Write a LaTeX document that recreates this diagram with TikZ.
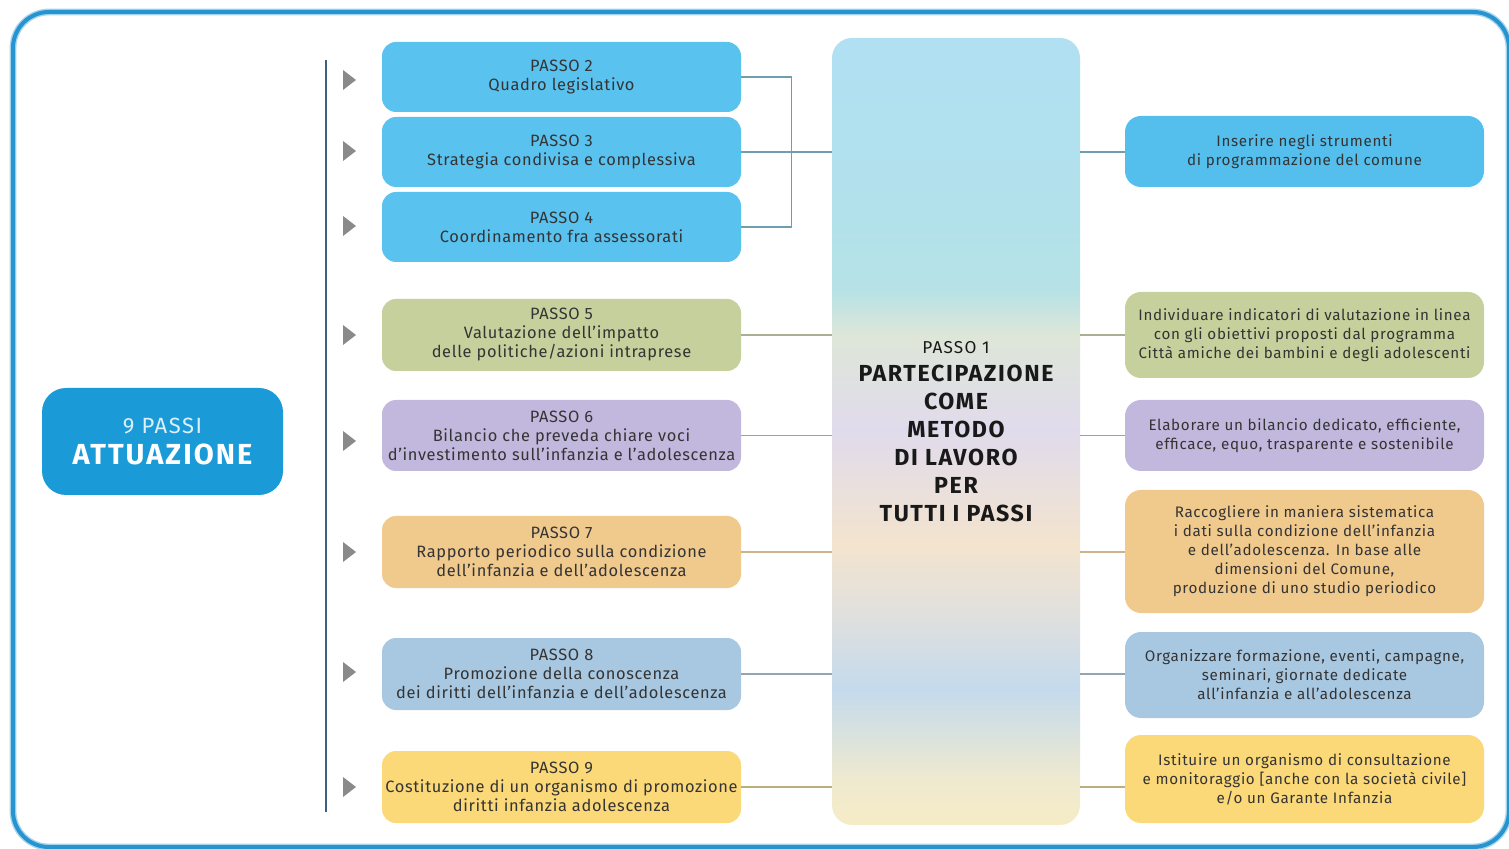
\documentclass[tikz,border=0pt]{standalone}
\usepackage{fontspec}
\setmainfont{Fira Sans}
\newfontfamily\passofont{Fira Sans}[LetterSpace=4]
\newfontfamily\azionefont{Fira Sans}[LetterSpace=4.5]
\newfontfamily\titolofont{Fira Sans}[LetterSpace=7]

\definecolor{frameblue}{RGB}{38,148,208}
\definecolor{mainblue}{RGB}{26,155,216}
\definecolor{stepcyan}{RGB}{90,194,239}
\definecolor{stepolive}{RGB}{197,208,156}
\definecolor{steplilac}{RGB}{194,184,221}
\definecolor{steppeach}{RGB}{240,201,141}
\definecolor{stepsteel}{RGB}{168,200,226}
\definecolor{stepyellow}{RGB}{251,217,121}
\definecolor{txtgray}{RGB}{52,52,52}
\definecolor{trigray}{RGB}{138,138,138}
\definecolor{axisblue}{RGB}{62,95,125}

\definecolor{shadeA}{RGB}{176,224,242}
\definecolor{shadeB}{RGB}{178,225,236}
\definecolor{shadeC}{RGB}{182,226,230}
\definecolor{shadeD}{RGB}{222,230,216}
\definecolor{shadeE}{RGB}{224,219,236}
\definecolor{shadeF}{RGB}{243,228,206}
\definecolor{shadeG}{RGB}{224,224,222}
\definecolor{shadeH}{RGB}{196,218,236}
\definecolor{shadeI}{RGB}{238,233,208}
\definecolor{shadeJ}{RGB}{246,236,198}

\pgfdeclareverticalshading{passouno}{100bp}{color(0bp)=(shadeJ); color(25bp)=(shadeJ);
  color(28bp)=(shadeI); color(33.6bp)=(shadeH); color(38.3bp)=(shadeG); color(42.8bp)=(shadeF);
  color(50.1bp)=(shadeE); color(56.1bp)=(shadeD); color(59bp)=(shadeC); color(64.7bp)=(shadeB);
  color(75bp)=(shadeA); color(100bp)=(shadeA)}

\begin{document}
\begin{tikzpicture}[x=0.5pt,y=-0.5pt,
    passo/.style={rounded corners=7pt, minimum width=179.5pt, minimum height=35pt,
      inner sep=0pt, align=center, text=txtgray, font=\passofont\fontsize{8.2}{9.5}\selectfont},
    azione/.style={rounded corners=8pt, minimum width=179.5pt, minimum height=35.5pt,
      inner sep=0pt, align=center, text=txtgray, font=\azionefont\fontsize{7.6}{9.5}\selectfont},
    conn/.style={line width=0.6pt}]
	\useasboundingbox (0,0) rectangle (1509,849);
	\draw[frameblue!40, line width=3.4pt, rounded corners=18pt] (13,12) rectangle (1509,847);
	\draw[frameblue, line width=2pt, rounded corners=18pt] (13,12) rectangle (1509,847);

	\node[fill=mainblue, rounded corners=12pt, minimum width=120.5pt, minimum height=53.5pt,
	  align=center, text=white, font=\titolofont\fontsize{14.5}{16.5}\selectfont\bfseries] (passi) at (162.5,441.5)
	  {{\fontsize{11}{12}\selectfont\mdseries\color{white!85!mainblue}9 PASSI}\\[-1pt]ATTUAZIONE};

	\draw[axisblue, line width=0.8pt] (326,60) -- (326,812);
	\foreach \y in {80,151,226,335,441,552,672,787}
		\fill[trigray] (343,\y-10) -- (356,\y) -- (343,\y+10) -- cycle;

	\node[passo, fill=stepcyan] (p2) at (561.5,77) {PASSO 2\\Quadro legislativo};
	\node[passo, fill=stepcyan] (p3) at (561.5,152) {PASSO 3\\Strategia condivisa e complessiva};
	\node[passo, fill=stepcyan] (p4) at (561.5,227) {PASSO 4\\Coordinamento fra assessorati};
	\node[passo, fill=stepolive, minimum height=36pt] (p5) at (561.5,335)
	  {PASSO 5\\Valutazione dell’impatto\\delle politiche/azioni intraprese};
	\node[passo, fill=steplilac, minimum height=35.5pt] (p6) at (561.5,435.5)
	  {PASSO 6\\Bilancio che preveda chiare voci\\d’investimento sull’infanzia e l’adolescenza};
	\node[passo, fill=steppeach, minimum height=36pt] (p7) at (561.5,552)
	  {PASSO 7\\Rapporto periodico sulla condizione\\dell’infanzia e dell’adolescenza};
	\node[passo, fill=stepsteel, minimum height=36pt] (p8) at (561.5,674)
	  {PASSO 8\\Promozione della conoscenza\\dei diritti dell’infanzia e dell’adolescenza};
	\node[passo, fill=stepyellow, minimum height=36pt] (p9) at (561.5,787)
	  {PASSO 9\\Costituzione di un organismo di promozione\\diritti infanzia adolescenza};

	\node[shading=passouno, rounded corners=10pt, minimum width=124pt, minimum height=393.5pt,
	  align=center, text=black!90, font=\titolofont\fontsize{11.6}{14}\selectfont\bfseries] (p1) at (956,431.5)
	  {{\fontsize{8.6}{10}\selectfont\mdseries PASSO 1}\\PARTECIPAZIONE\\COME\\METODO\\DI LAVORO\\PER\\TUTTI I PASSI};

	\node[azione, fill=stepcyan!90!mainblue] (a1) at (1304.5,151.5)
	  {Inserire negli strumenti\\di programmazione del comune};
	\node[azione, fill=stepolive, minimum height=43pt] (a2) at (1304.5,335)
	  {Individuare indicatori di valutazione in linea\\con gli obiettivi proposti dal programma\\Città amiche dei bambini e degli adolescenti};
	\node[azione, fill=steplilac] (a3) at (1304.5,435.5)
	  {Elaborare un bilancio dedicato, efficiente,\\efficace, equo, trasparente e sostenibile};
	\node[azione, fill=steppeach, minimum height=61.5pt] (a4) at (1304.5,551.5)
	  {Raccogliere in maniera sistematica\\i dati sulla condizione dell’infanzia\\e dell’adolescenza. In base alle\\dimensioni del Comune,\\produzione di uno studio periodico};
	\node[azione, fill=stepsteel, minimum height=43pt] (a5) at (1304.5,675)
	  {Organizzare formazione, eventi, campagne,\\seminari, giornate dedicate\\all’infanzia e all’adolescenza};
	\node[azione, fill=stepyellow, minimum height=44pt] (a6) at (1304.5,779)
	  {Istituire un organismo di consultazione\\e monitoraggio [anche con la società civile]\\e/o un Garante Infanzia};

	\draw[conn, stepcyan!45!gray] (p2.east) -- ++(50,0) |- (p4.east);
	\draw[conn, stepcyan!45!gray] (p3.east) -- (p1.west |- p3.east);
	\draw[conn, stepcyan!45!gray] (p1.east |- p3.east) -- (a1.west |- p3.east);
	\draw[conn, stepolive!60!gray] (p5.east) -- (p1.west |- p5.east);
	\draw[conn, stepolive!60!gray] (p1.east |- p5.east) -- (a2.west |- p5.east);
	\draw[conn, steplilac!50!gray] (p6.east) -- (p1.west |- p6.east);
	\draw[conn, steplilac!50!gray] (p1.east |- p6.east) -- (a3.west |- p6.east);
	\draw[conn, steppeach!70!gray] (p7.east) -- (p1.west |- p7.east);
	\draw[conn, steppeach!70!gray] (p1.east |- p7.east) -- (a4.west |- p7.east);
	\draw[conn, stepsteel!50!gray] (p8.east) -- (p1.west |- p8.east);
	\draw[conn, stepsteel!50!gray] (p1.east |- p8.east) -- (a5.west |- p8.east);
	\draw[conn, stepyellow!50!gray] (p9.east) -- (p1.west |- p9.east);
	\draw[conn, stepyellow!50!gray] (p1.east |- p9.east) -- (a6.west |- p9.east);
\end{tikzpicture}
\end{document}
